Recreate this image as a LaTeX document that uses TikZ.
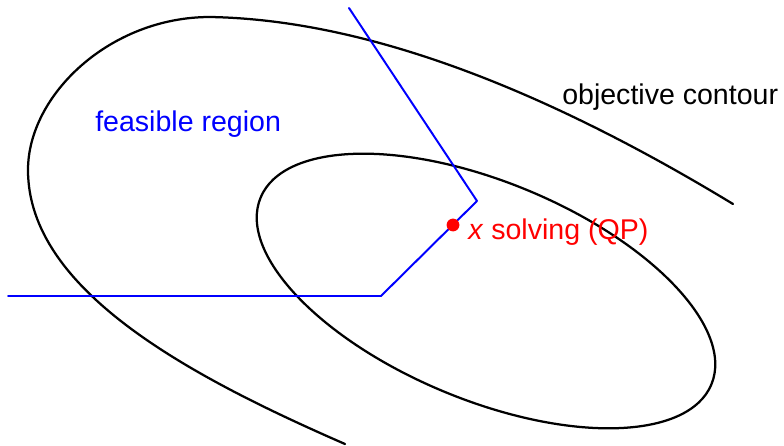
\documentclass[tikz,border=0pt]{standalone}
\usepackage{fontspec}
\setmainfont{Liberation Sans}
\usetikzlibrary{positioning}
\tikzset{
  every picture/.style={line join=round, line cap=round},
  contour/.style={line width=1.6pt, black},
  feasible/.style={line width=1.4pt, blue},
  lbl/.style={font=\fontsize{20.3}{24}\selectfont, inner sep=0pt, anchor=base west},
}
\begin{document}
\begin{tikzpicture}[x=0.025cm,y=-0.025cm]
\useasboundingbox (0,0) rectangle (784,446);
% objective contours
\draw[contour] (733,204) .. controls (565,102) and (380,20) .. (210,17)
  .. controls (110,17) and (28,95) .. (28,170)
  .. controls (28,290) and (189,376) .. (345,444);
\draw[contour,rotate around={-22.5:(486,291)}] (486,291) ellipse [x radius=244, y radius=109];
% feasible region boundary
\coordinate (top) at (349,8);
\coordinate (kink) at (477,201);
\coordinate (corner) at (381,296);
\coordinate (left) at (8,296);
\draw[feasible] (top) -- (kink) -- (corner) -- (left);
\node[circle, fill=red, inner sep=0pt, minimum size=0.32cm] (xqp) at (453,225) {};
% labels
\node[lbl, blue] (feas) at (95,132) {feasible region};
\node[lbl] (obj) at (562,105) {objective contour};
\node[lbl, red] (sol) at (468,240) {\textit{x} solving (QP)};
\end{tikzpicture}
\end{document}
